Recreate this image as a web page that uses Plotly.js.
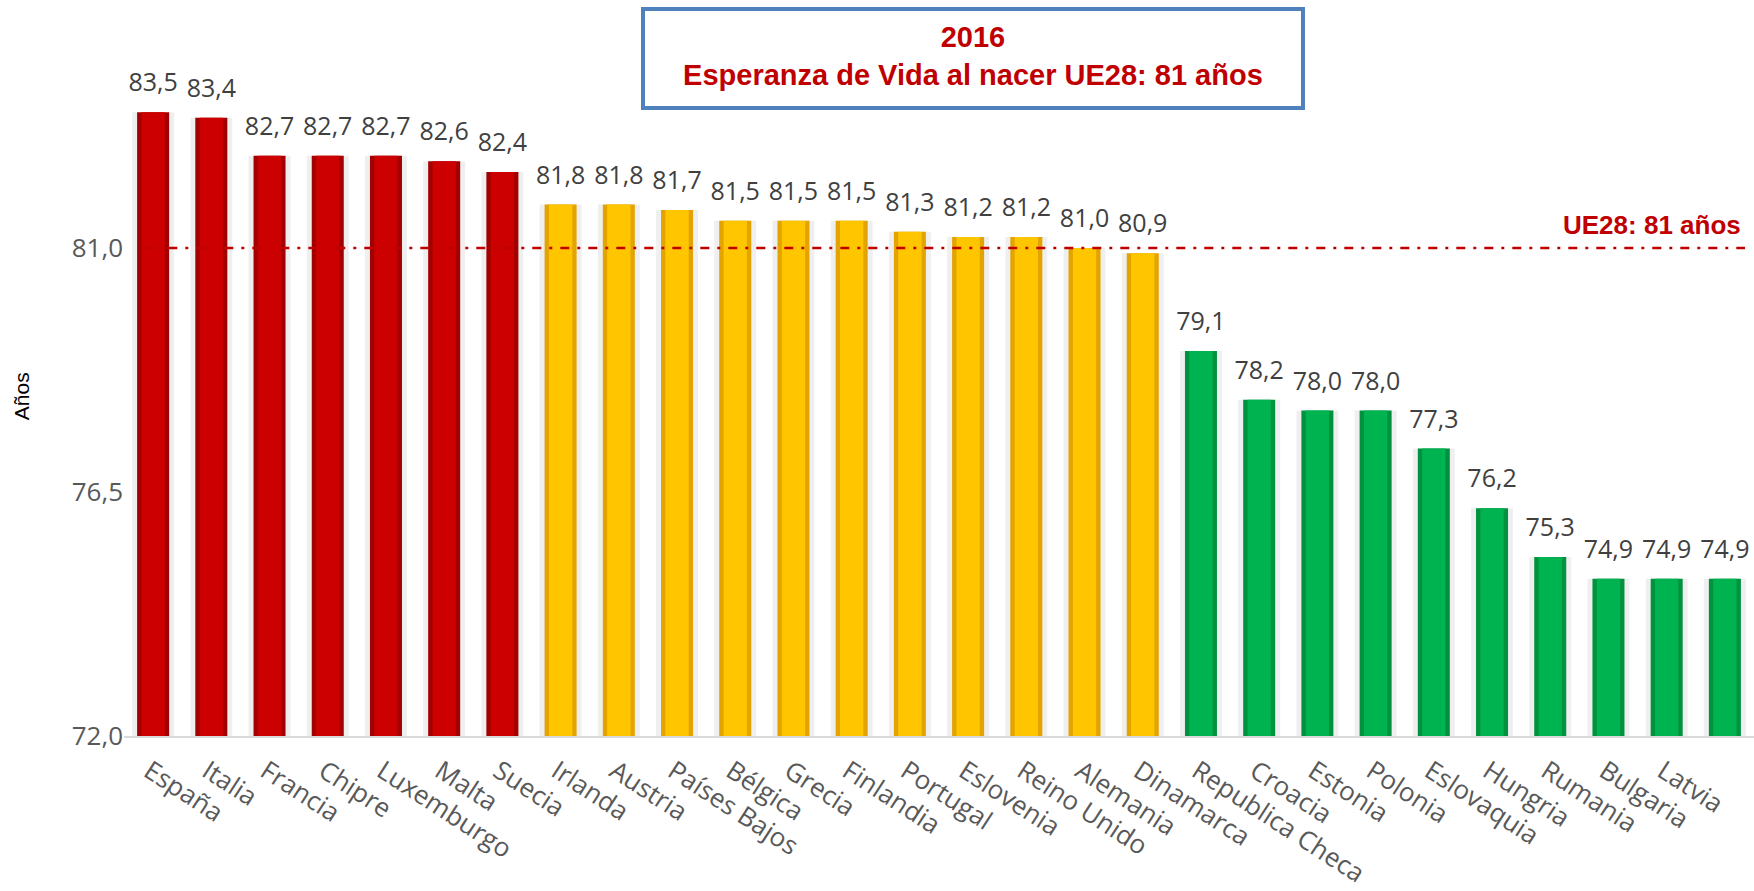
<!DOCTYPE html>
<html>
<head>
<meta charset="utf-8">
<script src="https://cdn.plot.ly/plotly-3.0.1.min.js"></script>
<style>html,body{margin:0;padding:0;background:#fff;}#chart{width:1754px;height:891px;}</style>
</head>
<body>
<div id="chart"></div>
<script>
// ---- Data ----
const paises = ["España","Italia","Francia","Chipre","Luxemburgo","Malta","Suecia",
  "Irlanda","Austria","Países Bajos","Bélgica","Grecia","Finlandia","Portugal","Eslovenia",
  "Reino Unido","Alemania","Dinamarca",
  "Republica Checa","Croacia","Estonia","Polonia","Eslovaquia","Hungria","Rumania","Bulgaria","Latvia","Lituania"];
const esperanza = [83.5,83.4,82.7,82.7,82.7,82.6,82.4,
  81.8,81.8,81.7,81.5,81.5,81.5,81.3,81.2,81.2,81.0,80.9,
  79.1,78.2,78.0,78.0,77.3,76.2,75.3,74.9,74.9,74.9];
const grupo = ["alto","alto","alto","alto","alto","alto","alto",
  "medio","medio","medio","medio","medio","medio","medio","medio","medio","medio","medio",
  "bajo","bajo","bajo","bajo","bajo","bajo","bajo","bajo","bajo","bajo"];
// tick labels as shown in the picture (last one not visible)
const etiquetas = ["España","Italia","Francia","Chipre","Luxemburgo","Malta","Suecia",
  "Irlanda","Austria","Países Bajos","Bélgica","Grecia","Finlandia","Portugal","Eslovenia",
  "Reino Unido","Alemania","Dinamarca",
  "Republica Checa","Croacia","Estonia","Polonia","Eslovaquia","Hungria","Rumania","Bulgaria","Latvia",""];
const mediaUE = 81;
const yTicks = [72, 76.5, 81];

// ---- Styles ----
const edgeCol = {alto:"#a30000", medio:"#e3a400", bajo:"#00923f"};
const coreCol = {alto:"#cc0000", medio:"#ffc600", bajo:"#00b351"};

const shadow = {
  type:"bar", x:paises, y:esperanza, width:0.72,
  marker:{color:"#efefef"}, hoverinfo:"skip", showlegend:false
};
const barsEdge = {
  type:"bar", x:paises, y:esperanza, width:0.55,
  marker:{color:grupo.map(g=>edgeCol[g])}, hoverinfo:"skip", showlegend:false
};
const barsCore = {
  type:"bar", x:paises, y:esperanza, width:0.40,
  marker:{color:grupo.map(g=>coreCol[g])}, hoverinfo:"skip", showlegend:false
};
const labels = {
  type:"scatter", mode:"markers+text", x:paises, y:esperanza,
  text:esperanza.map(v=>v.toFixed(1).replace(".",",")),
  textposition:"top center",
  textfont:{family:"Open Sans, sans-serif", size:25, color:"#404040"},
  marker:{size:22, opacity:0}, cliponaxis:false, hoverinfo:"skip", showlegend:false
};

const layout = {
  width:1754, height:891,
  margin:{l:124, r:0, t:31, b:155},
  paper_bgcolor:"#ffffff", plot_bgcolor:"#ffffff",
  barmode:"overlay",
  separators:",.",
  showlegend:false,
  title:{
    text:"<b>2016</b><br><b>Esperanza de Vida al nacer UE28: 81 años</b>",
    font:{family:"Liberation Sans, Arial, sans-serif", size:29, color:"#c00000"},
    x:0.5547, xanchor:"center", xref:"container",
    y:0.947, yanchor:"middle", yref:"container"
  },
  xaxis:{
    type:"category", range:[-0.5, paises.length-0.5],
    tickvals:paises, ticktext:etiquetas,
    tickangle:33, ticks:"", showgrid:false, zeroline:false,
    showline:true, linecolor:"#d9d9d9", linewidth:2,
    ticklabelshift:-4, ticklabelstandoff:8,
    tickfont:{family:"Open Sans, sans-serif", size:26, color:"#595959"}
  },
  yaxis:{
    range:[72, 85], tickvals:yTicks, tickformat:".1f",
    ticks:"", showgrid:false, zeroline:false, showline:false,
    ticklabelstandoff:0,
    tickfont:{family:"Open Sans, sans-serif", size:26, color:"#595959"}
  },
  shapes:[
    {type:"line", xref:"paper", yref:"y", x0:0.01, x1:0.9945, y0:mediaUE, y1:mediaUE,
     line:{color:"#c00000", width:2.5, dash:"9px,8px,3px,8px"}, layer:"above"},
    {type:"rect", xref:"paper", yref:"paper", x0:0.3184, x1:0.7233, y0:0.8908, y1:1.0312,
     line:{color:"#4f81bd", width:4}, fillcolor:"rgba(255,255,255,0)", layer:"below"}
  ],
  annotations:[
    {xref:"paper", yref:"y", x:0.9933, y:mediaUE, xanchor:"right", yanchor:"bottom", yshift:6,
     text:"<b>UE28: " + mediaUE + " años</b>", showarrow:false,
     font:{family:"Liberation Sans, Arial, sans-serif", size:26, color:"#c00000"}},
    {xref:"paper", yref:"paper", x:-0.0632, y:0.482, xanchor:"center", yanchor:"middle",
     text:"Años", textangle:-90, showarrow:false,
     font:{family:"Liberation Sans, Arial, sans-serif", size:21, color:"#000000"}}
  ]
};

Plotly.newPlot("chart", [shadow, barsEdge, barsCore, labels], layout, {displayModeBar:false, staticPlot:true});
</script>
</body>
</html>
